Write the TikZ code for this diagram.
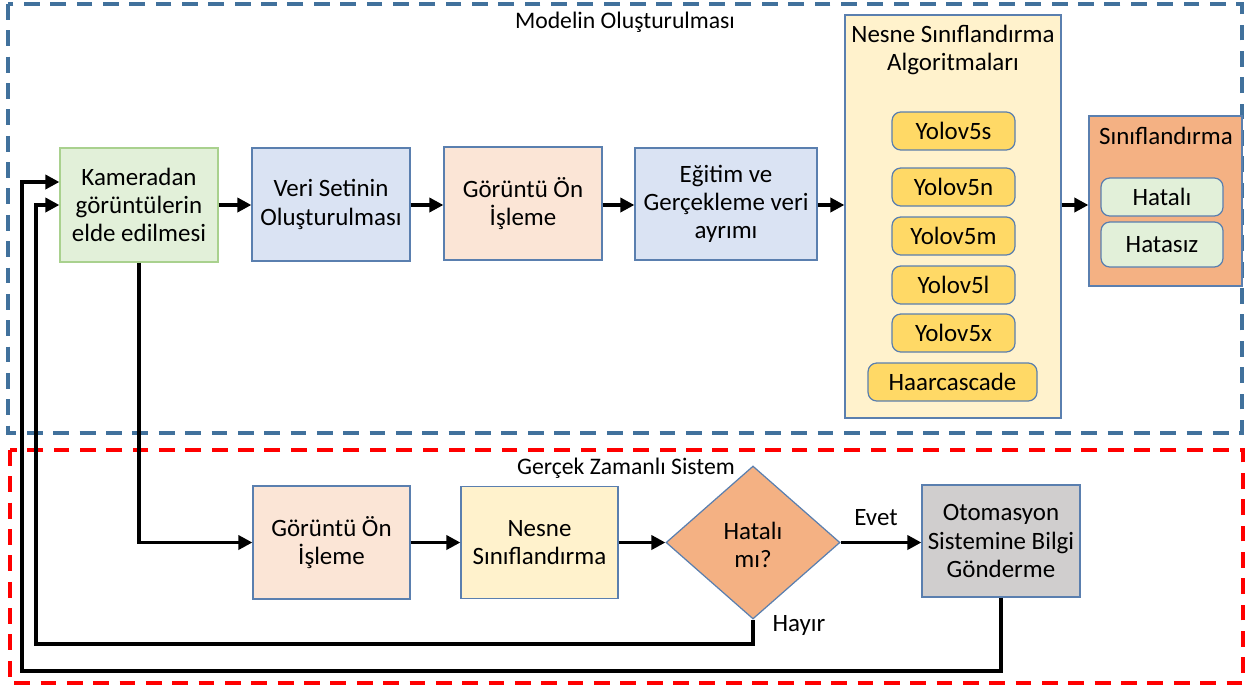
\documentclass[tikz,border=0pt]{standalone}
\usepackage{fontspec}
\setmainfont{Carlito}
\usetikzlibrary{arrows.meta,shapes.geometric}
\definecolor{gfill}{HTML}{E2F0D9}
\definecolor{gedge}{HTML}{A9D18E}
\definecolor{bfill}{HTML}{DAE3F3}
\definecolor{edgeb}{HTML}{5A7FAF}
\definecolor{pfill}{HTML}{FBE5D6}
\definecolor{yfill}{HTML}{FFF2CC}
\definecolor{ydark}{HTML}{FFD966}
\definecolor{ofill}{HTML}{F4B183}
\definecolor{grfill}{HTML}{D0CECE}
\definecolor{dblue}{HTML}{41719C}
\tikzset{
  txt/.style={font=\fontsize{14.2}{16}\selectfont, align=center},
  box/.style={txt, draw=edgeb, line width=0.7pt, inner sep=2pt},
  rbox/.style={box, rounded corners=5pt},
  arr/.style={line width=2pt, -{Triangle[length=8pt,width=8pt]}},
  frameb/.style={draw=dblue, line width=2.2pt, dash pattern=on 9pt off 6pt},
  framer/.style={draw=red, line width=2.2pt, dash pattern=on 9pt off 6pt},
  ttl/.style={font=\fontsize{13.5}{16}\selectfont}
}
\begin{document}
\begin{tikzpicture}[x=0.02cm,y=-0.02cm]
\useasboundingbox (0,0) rectangle (1256,690);
% frames
\draw[framer] (10,450) rectangle (1243,683);
\draw[frameb] (8,4) rectangle (1242,433);
\node[ttl] (t1) at (625,22) {Modelin Oluşturulması};
\node[ttl] (t2) at (626,468) {Gerçek Zamanlı Sistem};
% top row
\node[box, draw=gedge, fill=gfill, minimum width=3.16cm, minimum height=2.28cm] (b1) at (139,205) {Kameradan\\görüntülerin\\elde edilmesi};
\node[box, fill=bfill, minimum width=3.16cm, minimum height=2.26cm] (b2) at (331,204.5) {Veri Setinin\\Oluşturulması};
\node[box, fill=pfill, minimum width=3.16cm, minimum height=2.26cm] (b3) at (523,203.5) {Görüntü Ön\\İşleme};
\node[box, fill=bfill, minimum width=3.64cm, minimum height=2.24cm] (b4) at (726,204) {Eğitim ve\\Gerçekleme veri\\ayrımı};
\node[box, fill=yfill, minimum width=4.32cm, minimum height=8.06cm] (b5) at (953,216.5) {};
\node[txt] (b5t) at (953,50) {Nesne Sınıflandırma\\Algoritmaları};
\node[rbox, fill=ydark, minimum width=2.46cm, minimum height=0.76cm] (y1) at (953.5,131) {Yolov5s};
\node[rbox, fill=ydark, minimum width=2.46cm, minimum height=0.76cm] (y2) at (953.5,187) {Yolov5n};
\node[rbox, fill=ydark, minimum width=2.46cm, minimum height=0.76cm] (y3) at (953.5,236) {Yolov5m};
\node[rbox, fill=ydark, minimum width=2.46cm, minimum height=0.76cm] (y4) at (953.5,285) {Yolov5l};
\node[rbox, fill=ydark, minimum width=2.46cm, minimum height=0.76cm] (y5) at (953.5,333) {Yolov5x};
\node[rbox, fill=ydark, minimum width=3.38cm, minimum height=0.76cm] (y6) at (952.5,382) {Haarcascade};
\node[box, fill=ofill, minimum width=3.06cm, minimum height=3.4cm] (b6) at (1165.5,201) {};
\node[txt] (b6t) at (1166,136) {Sınıflandırma};
\node[rbox, fill=gfill, minimum width=2.44cm, minimum height=0.76cm] (h1) at (1162,197) {Hatalı};
\node[rbox, fill=gfill, minimum width=2.44cm, minimum height=0.9cm] (h2) at (1162,244.5) {Hatasız};
% bottom row
\node[box, fill=pfill, minimum width=3.14cm, minimum height=2.26cm] (g2) at (331.5,542.5) {Görüntü Ön\\İşleme};
\node[box, fill=yfill, minimum width=3.14cm, minimum height=2.24cm] (n2) at (539.5,542.5) {Nesne\\Sınıflandırma};
\node[diamond, draw=edgeb, line width=0.7pt, fill=ofill, inner sep=0pt, minimum width=3.48cm, minimum height=3.06cm] (dia) at (753,542.5) {};
\node[txt] (diat) at (753,545) {Hatalı\\mı?};
\node[box, fill=grfill, minimum width=3.16cm, minimum height=2.24cm] (oto) at (1001,541) {Otomasyon\\Sistemine Bilgi\\Gönderme};
\node[txt] (evet) at (876,518) {Evet};
\node[txt] (hayir) at (799,625) {Hayır};
% connectors
\draw[arr] (b1.east |- 0,205) -- (b2.west |- 0,205);
\draw[arr] (b2.east |- 0,205) -- (b3.west |- 0,205);
\draw[arr] (b3.east |- 0,205) -- (b4.west |- 0,205);
\draw[arr] (b4.east |- 0,205) -- (b5.west |- 0,205);
\draw[arr] (b5.east |- 0,205) -- (b6.west |- 0,205);
\draw[arr] (b1.south) |- (g2.west |- dia.west);
\draw[arr] (g2.east |- dia.west) -- (n2.west |- dia.west);
\draw[arr] (n2.east) -- (dia.west);
\draw[arr] (dia.east) -- (oto.west |- dia.east);
\coordinate (f1) at (36,644);
\coordinate (f2) at (22,671);
\draw[arr] (dia.south) |- (f1) |- (b1.west |- 0,205);
\draw[arr] (oto.south) |- (f2) |- (b1.west |- 0,182);
\end{tikzpicture}
\end{document}
